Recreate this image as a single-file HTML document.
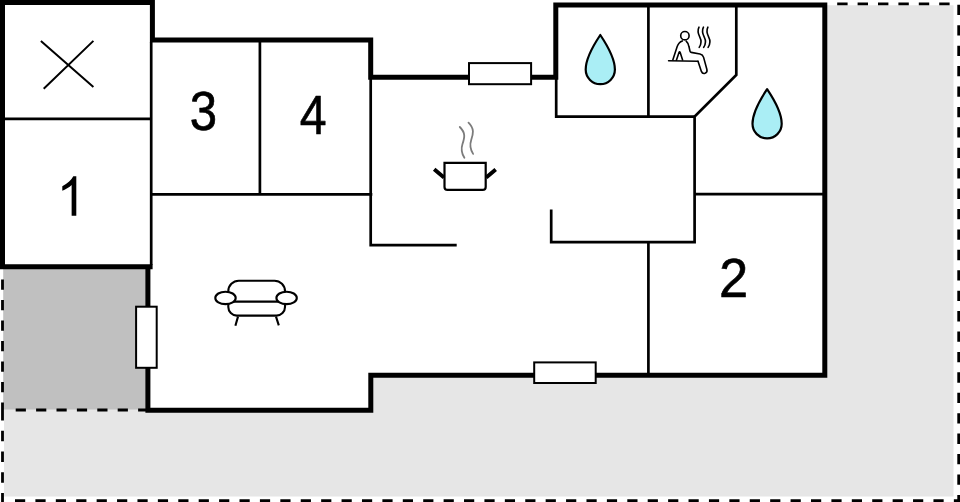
<!DOCTYPE html>
<html>
<head>
<meta charset="utf-8">
<title>Floor plan</title>
<style>
html,body{margin:0;padding:0;background:#fff;}
body{width:960px;height:502px;overflow:hidden;font-family:"Liberation Sans",sans-serif;}
svg{display:block;}
.num{font-family:"Liberation Sans",sans-serif;font-size:54px;fill:#000;stroke:#000;stroke-width:0.6px;stroke-linejoin:round;}
</style>
</head>
<body>
<svg width="960" height="502" viewBox="0 0 960 502">
  <rect x="0" y="0" width="960" height="502" fill="#ffffff"/>
  <!-- terrace / plot light gray -->
  <polygon points="826,5.3 953.5,5.3 953.5,496.5 4,496.5 4,409 372,409 372,374 826,374" fill="#e6e6e6"/>
  <!-- dark gray covered area -->
  <rect x="3.2" y="268" width="144" height="141.5" fill="#c0c0c0"/>

  <!-- dashed plot outline -->
  <g fill="none" stroke="#000" stroke-width="2.8">
    <path d="M837.2,3.9 H952" stroke-dasharray="10.4 10"/>
    <path d="M958.7,4.8 V502" stroke-dasharray="10.3 10.12"/>
    <path d="M15,500.6 H960" stroke-dasharray="10.2 10.21"/>
    <path d="M2.5,279.4 V410" stroke-dasharray="10.4 10.1"/>
    <path d="M2.5,410 V502" stroke-dasharray="10.6 10.13"/>
    <path d="M15.7,410 H146" stroke-dasharray="10.2 10.2"/>
  </g>

  <!-- thin interior walls -->
  <g fill="none" stroke="#000" stroke-width="2.7" stroke-linejoin="miter">
    <path d="M151.2,42 V265"/>
    <path d="M4,118.8 H151.2"/>
    <path d="M151.2,194.3 H372.3"/>
    <path d="M259.9,42 V194.3"/>
    <path d="M370.7,79 V245.1 H456.7"/>
    <path d="M556.2,79 V116.6 H695"/>
    <path d="M648.4,7 V116.6"/>
    <path d="M736.3,7 V75 L694.6,116.6 V242.1 H551.2 V209.6"/>
    <path d="M694.6,194.1 H823"/>
    <path d="M648.4,242.1 V373"/>
  </g>

  <!-- thick outer walls -->
  <path d="M147.9,266.8 V410.2 H370.8 V375.2 H824.8 V5 H555.8 V77.2 H370.7 V40 H152.4 V2.5 H2.5 V266.8 H152.6"
        fill="none" stroke="#000" stroke-width="5" stroke-linejoin="miter"/>

  <!-- windows -->
  <g fill="#fff" stroke="#000" stroke-width="2">
    <rect x="469" y="63.1" width="62.1" height="21.1"/>
    <rect x="534.2" y="362.4" width="61.5" height="20.6"/>
    <rect x="136.1" y="306.7" width="20.6" height="61.1"/>
  </g>

  <!-- X mark -->
  <g stroke="#000" stroke-width="2" fill="none">
    <path d="M40.9,40.9 L93.4,86.9 M93.4,40.9 L43.7,88.8"/>
  </g>

  <!-- numbers -->
  <path d="M763 0H583V1147Q518 1085 412.500 1023Q307 961 223 930V1104Q374 1175 487 1276Q600 1377 647 1472H763Z" transform="translate(76.3,215.7) scale(0.02593,-0.02677) translate(-763,0)" fill="#000"/>
  <text class="num" transform="translate(719.08,297.2) scale(0.9715,1.0241)">2</text>
  <text class="num" transform="translate(189.79,129.68) scale(0.9103,1.0314)">3</text>
  <text class="num" transform="translate(299.63,134.2) scale(0.8937,1.0403)">4</text>

  <!-- water drops -->
  <g fill="#aaeef5" stroke="#000" stroke-width="2.2" stroke-linejoin="round">
    <path id="drop" d="M600.3,35 C595.6,42 585.7,57.5 585.7,69.6 A14.6,14.6 0 0 0 614.9,69.6 C614.9,57.5 605,42 600.3,35 Z"/>
    <path d="M600.3,35 C595.6,42 585.7,57.5 585.7,69.6 A14.6,14.6 0 0 0 614.9,69.6 C614.9,57.5 605,42 600.3,35 Z" transform="translate(166.8,54.2)"/>
  </g>

  <!-- cooking pot -->
  <g fill="none" stroke="#000">
    <path d="M444.5,162.9 H485.7 V186.9 Q485.7,189.9 482.7,189.9 H447.5 Q444.5,189.9 444.5,186.9 Z" stroke-width="2.2" fill="#fff"/>
    <path d="M434.2,169.2 L444,177.4 M495.7,169.5 L486.2,177.6" stroke-width="3.9"/>
    <path d="M459.8,127 C466,133 464.5,138 462.5,144 C460.5,150 462,154 464.4,157.8 M468.5,122.6 C474.7,128.6 473.2,134 471.2,140 C469.2,146 470.7,150 473.1,153.9" stroke="#7c7c7c" stroke-width="1.8" stroke-linecap="round"/>
  </g>

  <!-- sofa -->
  <g fill="#fff" stroke="#000" stroke-width="2.1">
    <path d="M238.8,280.7 H274.5 A10.5,10.5 0 0 1 285,291.2 V307.1 A8.5,8.5 0 0 1 276.5,315.6 H236.8 A8.5,8.5 0 0 1 228.3,307.1 V291.2 A10.5,10.5 0 0 1 238.8,280.7 Z"/>
    <path d="M230,301.6 H282" fill="none"/>
    <ellipse cx="225.5" cy="297.9" rx="10.2" ry="6.2"/>
    <ellipse cx="286.6" cy="297.9" rx="10.2" ry="6.2"/>
    <path d="M238,316.6 L235.4,325.7 M276,316.6 L278.8,325.4" fill="none"/>
  </g>

  <!-- sauna -->
  <g fill="none" stroke="#000" stroke-width="1.6" stroke-linejoin="round" stroke-linecap="round">
    <circle cx="684.9" cy="35.7" r="4.2"/>
    <path d="M668.6,60.8 L698,61.3"/>
    <path d="M682.3,40.9 C679.6,41.8 678,44.2 677.2,46.5 L672.8,59.9"/>
    <path d="M676.4,60.2 L679,52.6 Q679.6,51.2 680.2,52.6 L682.6,59.9"/>
    <path d="M686.2,41.2 C688,42.8 688.6,44.8 689,46.8 L690,51.2 Q690.2,52.2 691.2,52.4 L700,54 Q702.8,54.6 703.6,57.4 L706.9,69.5 Q707.6,72.4 705,73.3 Q702.4,74 701.4,71.4 L698,61.3"/>
    <path id="stm" d="M699,27.2 C697,31 698,33.6 699.8,37.2 C701.8,41 701.5,44 699.2,47.4"/>
    <path d="M699,27.2 C697,31 698,33.6 699.8,37.2 C701.8,41 701.5,44 699.2,47.4" transform="translate(4.45,0)"/>
    <path d="M699,27.2 C697,31 698,33.6 699.8,37.2 C701.8,41 701.5,44 699.2,47.4" transform="translate(8.9,0)"/>
  </g>
</svg>
</body>
</html>
